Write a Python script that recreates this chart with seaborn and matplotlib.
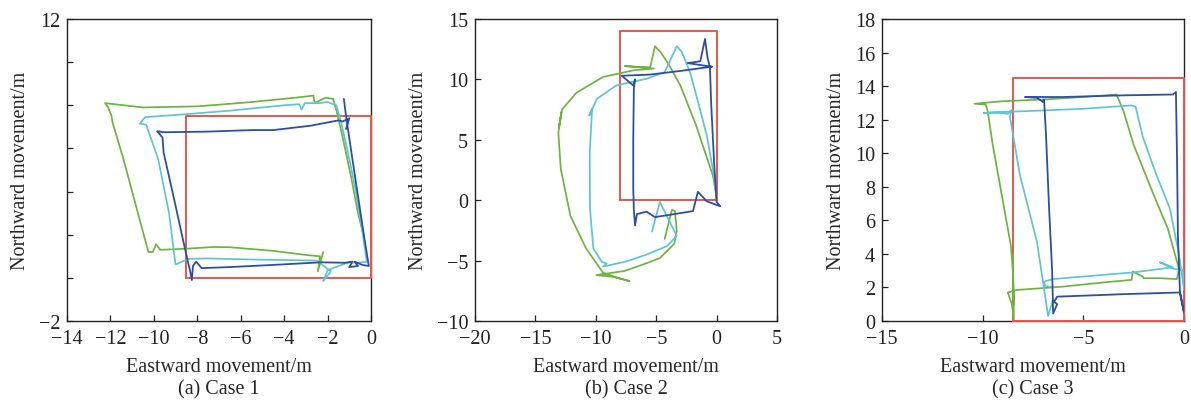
import matplotlib
matplotlib.use("Agg")
import matplotlib.pyplot as plt
import seaborn as sns
import numpy as np

# ---------------- data ----------------
# Case 1
c1_green_x = [-2.2, -2.45, -2.35, -2.9, -4.5, -6.5, -7.3, -8.5, -9.7, -9.9, -10.05, -10.25, -10.6, -11.4,
              -11.9, -11.95, -12.1, -12.25, -10.5, -8.0, -5.5, -3.5, -2.65, -2.6, -2.1, -1.75, -1.6, -1.3,
              -0.9, -0.6, -0.35]
c1_green_y = [1.2, 0.3, 1.0, 1.05, 1.25, 1.42, 1.43, 1.35, 1.3, 1.55, 1.2, 1.2, 2.5, 5.5,
              7.2, 7.5, 7.9, 8.1, 7.9, 7.95, 8.15, 8.35, 8.45, 8.1, 8.35, 8.3, 7.8, 6.5,
              4.6, 3.0, 2.0]
c1_cyan_x = [-0.15, -0.6, -1.0, -1.5, -2.0, -2.2, -1.85, -2.5, -3.6, -5.5, -7.5, -8.4, -9.0, -9.05, -9.3,
             -9.8, -10.25, -10.35, -10.65, -10.4, -9.0, -6.5, -4.0, -3.3, -3.2, -3.05, -2.4, -2.0, -1.6,
             -1.4, -1.1, -0.75, -0.45, -0.2]
c1_cyan_y = [0.75, 0.7, 0.72, 0.55, 0.35, -0.15, 0.3, 0.8, 0.82, 0.85, 0.9, 0.88, 0.62, 1.0, 3.0,
             5.5, 6.8, 7.1, 7.15, 7.45, 7.55, 7.75, 8.0, 8.05, 7.8, 8.1, 8.1, 8.15, 8.0,
             7.3, 6.0, 4.3, 2.5, 0.8]
c1_blue_x = [-1.25, -1.15, -0.9, -0.6, -0.3, -0.1, -0.4, -0.75, -0.6, -1.0, -0.85, -1.2, -2.3, -4.5, -6.5,
             -7.8, -8.05, -8.2, -8.25, -8.35, -8.6, -9.1, -9.55, -9.6, -9.85, -9.5, -7.5, -5.5, -4.5,
             -2.8, -1.5, -1.3, -1.0, -1.15]
c1_blue_y = [8.3, 7.5, 5.8, 3.8, 1.8, 0.55, 0.6, 0.75, 0.55, 0.5, 0.75, 0.7, 0.72, 0.6, 0.5,
             0.45, 0.75, 0.55, -0.1, 0.4, 1.5, 3.8, 5.8, 6.5, 6.8, 6.75, 6.78, 6.85, 6.85,
             7.05, 7.3, 7.25, 7.4, 6.9]
c1_rect_x = [-8.5, 0.0, 0.0, -8.5, -8.5]
c1_rect_y = [0.0, 0.0, 7.5, 7.5, 0.0]

# Case 2
c2_green_x = [-4.3, -3.7, -3.45, -3.3, -3.5, -4.7, -6.3, -7.6, -8.6, -9.95, -8.5, -7.2, -8.3, -9.4, -10.8,
              -12.1, -12.9, -13.1, -12.85, -13.05, -12.8, -11.6, -9.4, -6.9, -5.2, -7.6, -5.5, -5.1, -4.6,
              -4.0, -3.0, -1.7, -0.3, 0.0]
c2_green_y = [-3.2, -0.8, -0.9, -2.5, -3.6, -4.8, -5.4, -5.85, -6.0, -6.2, -6.35, -6.7, -6.4, -6.0, -4.0,
              -1.3, 2.6, 5.6, 7.3, 6.0, 7.5, 8.9, 10.2, 10.75, 10.9, 11.1, 11.0, 12.75, 12.2,
              11.3, 9.5, 6.2, 2.0, 0.3]
c2_cyan_x = [-5.35, -4.7, -3.3, -4.1, -5.8, -7.4, -9.4, -9.1, -9.5, -10.2, -10.48, -10.5, -10.3, -10.55,
             -9.9, -8.3, -5.8, -4.3, -3.3, -2.9, -2.2, -1.5, -0.8, -0.3, 0.0]
c2_cyan_y = [-2.6, -0.15, -2.95, -3.8, -4.5, -5.05, -5.5, -5.25, -5.1, -4.0, -0.7, 4.0, 7.6, 7.0,
             8.4, 9.5, 10.05, 10.6, 12.75, 12.3, 10.6, 8.0, 5.3, 2.5, 0.1]
c2_blue_x = [-0.4, -3.0, -5.5, -7.85, -6.9, -6.75, -6.85, -6.9, -6.9, -6.85, -6.75, -6.6, -5.8, -5.1,
             -3.5, -1.95, -1.55, -0.8, 0.3, 0.0, -0.2, -0.45, -0.55, -0.75, -0.96, -1.35, -2.4, -0.4]
c2_blue_y = [11.05, 10.7, 10.4, 10.3, 9.5, 10.0, 9.2, 5.0, 1.0, -0.8, -2.1, -1.15, -0.95, -1.4,
             -1.15, -0.9, 0.7, -0.1, -0.5, -0.15, 3.0, 8.0, 11.0, 11.8, 13.35, 11.5, 11.35, 11.05]
c2_rect_x = [-8.0, 0.0, 0.0, -8.0, -8.0]
c2_rect_y = [0.0, 0.0, 14.0, 14.0, 0.0]

# Case 3
c3_green_x = [-8.5, -8.45, -8.55, -8.75, -8.3, -6.0, -4.0, -2.6, -2.55, -2.05, -2.0, -1.2, -0.35, -0.25,
              -0.8, -1.5, -2.5, -3.0, -3.35, -5.0, -7.0, -9.0, -10.4, -9.85, -9.75, -9.5, -9.2, -8.9,
              -8.6, -8.5, -8.45]
c3_green_y = [4.0, 0.1, 1.0, 1.7, 1.85, 2.05, 2.3, 2.45, 2.95, 2.65, 2.55, 2.55, 2.5, 3.1,
              5.5, 7.5, 10.5, 12.5, 13.5, 13.35, 13.2, 13.1, 12.95, 12.9, 12.5, 10.5, 8.5, 6.5,
              4.5, 3.0, 1.0]
c3_cyan_x = [-6.5, -6.75, -7.3, -8.15, -8.65, -8.55, -8.75, -9.1, -9.95, -9.5, -8.0, -5.0, -2.6, -2.4,
             -2.05, -1.4, -0.7, -0.25, 0.0, -0.05, -0.5, -1.2, -0.55, -2.5, -5.0, -6.5, -6.95, -6.9, -6.5]
c3_cyan_y = [1.3, 0.3, 4.7, 8.7, 12.2, 12.6, 12.35, 12.4, 12.4, 12.45, 12.5, 12.65, 12.85, 12.75,
             11.0, 8.8, 6.7, 4.0, 1.9, 3.05, 3.1, 3.5, 3.2, 2.9, 2.65, 2.5, 2.35, 2.1, 2.0]
c3_blue_x = [0.0, -0.2, -3.0, -6.3, -6.45, -6.3, -6.5, -6.55, -6.7, -6.85, -6.95, -7.0, -7.3, -7.9,
             -6.0, -3.0, -0.55, -0.4, -0.35, -0.3, -0.2, 0.0]
c3_blue_y = [0.5, 1.7, 1.6, 1.45, 1.15, 1.0, 0.45, 3.0, 6.7, 11.0, 13.2, 13.05, 13.3, 13.35,
             13.35, 13.45, 13.5, 13.65, 10.0, 5.0, 1.7, 0.5]
c3_rect_x = [-8.5, 0.0, 0.0, -8.5, -8.5]
c3_rect_y = [0.0, 0.0, 14.5, 14.5, 0.0]

captions = ["(a) Case 1", "(b) Case 2", "(c) Case 3"]
xlabel = "Eastward movement/m"
ylabel = "Northward movement/m"

GREEN = "#6db33f"
CYAN = "#5ec4d2"
BLUE = "#2c4fa3"
RED = "#e8574b"

# ---------------- style ----------------
sns.set_style("ticks")
plt.rcParams["font.family"] = ["Liberation Serif", "DejaVu Serif"]
plt.rcParams["font.size"] = 14.5
plt.rcParams["axes.edgecolor"] = "#222222"
plt.rcParams["axes.linewidth"] = 1.0
plt.rcParams["xtick.direction"] = "in"
plt.rcParams["ytick.direction"] = "in"
plt.rcParams["xtick.color"] = "#222222"
plt.rcParams["ytick.color"] = "#222222"

fig = plt.figure(figsize=(11.91, 4.02), dpi=100)
W, H = 1191.0, 402.0
boxes = [(67, 371), (475, 777), (882, 1184)]
top_px, bot_px = 20, 322
axes = [fig.add_axes([l / W, (H - bot_px) / H, (r - l) / W, (bot_px - top_px) / H]) for l, r in boxes]

panels = [
    (c1_green_x, c1_green_y, c1_cyan_x, c1_cyan_y, c1_blue_x, c1_blue_y, c1_rect_x, c1_rect_y),
    (c2_green_x, c2_green_y, c2_cyan_x, c2_cyan_y, c2_blue_x, c2_blue_y, c2_rect_x, c2_rect_y),
    (c3_green_x, c3_green_y, c3_cyan_x, c3_cyan_y, c3_blue_x, c3_blue_y, c3_rect_x, c3_rect_y),
]

for i, (ax, p) in enumerate(zip(axes, panels)):
    gx, gy, cx, cy, bx, by, rx, ry = p
    sns.lineplot(x=rx, y=ry, sort=False, estimator=None, color=RED, linewidth=1.4, ax=ax,
                 clip_on=False, zorder=2)
    sns.lineplot(x=gx, y=gy, sort=False, estimator=None, color=GREEN, linewidth=1.25, ax=ax, zorder=3)
    sns.lineplot(x=cx, y=cy, sort=False, estimator=None, color=CYAN, linewidth=1.25, ax=ax, zorder=4)
    sns.lineplot(x=bx, y=by, sort=False, estimator=None, color=BLUE, linewidth=1.3, ax=ax, zorder=5)
    ax.set_xlabel(xlabel, fontsize=14.5, labelpad=6)
    ax.set_ylabel(ylabel, fontsize=14.5, labelpad=6)
    ax.tick_params(axis="x", length=4.5, width=0.9, labelsize=14.5, pad=6)
    ax.tick_params(axis="y", length=4.5, width=0.9, labelsize=14.5, pad=5)
    for s in ax.spines.values():
        s.set_visible(True)
        s.set_zorder(1)

ax1, ax2, ax3 = axes
ax1.set_xlim(-14, 0)
ax1.set_ylim(-2, 12)
ax1.set_xticks(np.arange(-14, 1, 2))
ax1.set_yticks(np.arange(-2, 13, 2))
ax1.set_yticklabels(["\u22122", "", "", "", "", "", "", "12"])

ax2.set_xlim(-20, 5)
ax2.set_ylim(-10, 15)
ax2.set_xticks(np.arange(-20, 6, 5))
ax2.set_yticks(np.arange(-10, 16, 5))

ax3.set_xlim(-15, 0)
ax3.set_ylim(0, 18)
ax3.set_xticks(np.arange(-15, 1, 5))
ax3.set_yticks(np.arange(0, 19, 2))

for (l, r), cap in zip(boxes, captions):
    fig.text((l + r) / 2 / W, 1 - 390 / H, cap, ha="center", va="center", fontsize=14.5)

fig.savefig("out.png", dpi=100)
